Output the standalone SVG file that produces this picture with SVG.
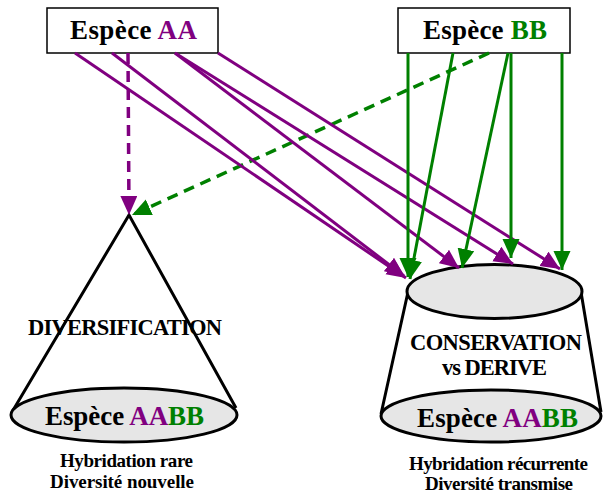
<svg xmlns="http://www.w3.org/2000/svg" width="603" height="497" viewBox="0 0 603 497">
  <style>
    .lbl { font-family: "Liberation Serif", "Times New Roman", serif; font-weight: bold; fill: #000; }
    .box { fill: #fff; stroke: #000; stroke-width: 1.5; }
    .outline { fill: none; stroke: #000; stroke-width: 3; }
    .disk { fill: #e6e6e6; stroke: #000; stroke-width: 3; }
    .aa { fill: #800080; }
    .bb { fill: #008000; }
    .pl { stroke: #800080; stroke-width: 3; fill: none; marker-end: url(#headP); }
    .gl { stroke: #008000; stroke-width: 3; fill: none; marker-end: url(#headG); }
    .dash { stroke-width: 3.5; stroke-dasharray: 11 7; }
  </style>
  <defs>
    <marker id="headP" markerUnits="userSpaceOnUse" markerWidth="20" markerHeight="18" refX="19" refY="8.5" orient="auto" viewBox="0 0 20 18">
      <path d="M0,0 L19,8.5 L0,17 z" fill="#800080"/>
    </marker>
    <marker id="headG" markerUnits="userSpaceOnUse" markerWidth="20" markerHeight="18" refX="19" refY="8.5" orient="auto" viewBox="0 0 20 18">
      <path d="M0,0 L19,8.5 L0,17 z" fill="#008000"/>
    </marker>
  </defs>

  <!-- parent species -->
  <g id="especeAA">
    <rect class="box" x="47" y="8" width="171" height="45"/>
    <text class="lbl" x="70" y="39" font-size="27" textLength="127" lengthAdjust="spacing">Espèce <tspan class="aa">AA</tspan></text>
  </g>
  <g id="especeBB">
    <rect class="box" x="398" y="8" width="172" height="45"/>
    <text class="lbl" x="423" y="39" font-size="27" textLength="124" lengthAdjust="spacing">Espèce <tspan class="bb">BB</tspan></text>
  </g>

  <!-- cone: single rare hybridisation -->
  <g id="diversification">
    <path class="outline" d="M12,412 L129,215 L236,408"/>
    <ellipse class="disk" cx="124" cy="415" rx="113" ry="27"/>
    <text class="lbl" x="28" y="335" font-size="22.5" textLength="194" lengthAdjust="spacing">DIVERSIFICATION</text>
    <text class="lbl" x="45" y="425" font-size="27" textLength="159" lengthAdjust="spacing">Espèce <tspan class="aa">AA</tspan><tspan class="bb">BB</tspan></text>
    <text class="lbl" x="60" y="467" font-size="19" textLength="133" lengthAdjust="spacing">Hybridation rare</text>
    <text class="lbl" x="50" y="488" font-size="19" textLength="144" lengthAdjust="spacing">Diversité nouvelle</text>
  </g>

  <!-- truncated cone: recurrent hybridisation -->
  <g id="conservation">
    <path class="outline" d="M408,292 L381,414 M581,292 L601,412"/>
    <ellipse class="disk" cx="491" cy="416" rx="110" ry="26"/>
    <ellipse class="disk" cx="494.5" cy="291.5" rx="87.5" ry="27"/>
    <text class="lbl" x="410" y="350" font-size="22.5" textLength="172" lengthAdjust="spacing">CONSERVATION</text>
    <text class="lbl" x="442" y="375" font-size="22.5" textLength="105" lengthAdjust="spacing">vs DERIVE</text>
    <text class="lbl" x="417" y="427" font-size="27" textLength="161" lengthAdjust="spacing">Espèce <tspan class="aa">AA</tspan><tspan class="bb">BB</tspan></text>
    <text class="lbl" x="409" y="470" font-size="19" textLength="179" lengthAdjust="spacing">Hybridation récurrente</text>
    <text class="lbl" x="425" y="490" font-size="19" textLength="148" lengthAdjust="spacing">Diversité transmise</text>
  </g>

  <!-- gene flow -->
  <g id="connectors">
    <path class="pl dash" d="M128,53 L129,215"/>
    <path class="gl dash" d="M489,53 L132,215"/>
    <path class="pl" d="M75,53 L406,278"/>
    <path class="pl" d="M112,53 L404,276"/>
    <path class="pl" d="M175,53 L459,268"/>
    <path class="pl" d="M175,53 L513,264"/>
    <path class="pl" d="M218,53 L560,269"/>
    <path class="gl" d="M408,53 L408,277"/>
    <path class="gl" d="M453,53 L410,279"/>
    <path class="gl" d="M508,53 L462,268"/>
    <path class="gl" d="M511,53 L511,258"/>
    <path class="gl" d="M562,53 L562,270"/>
  </g>
</svg>
